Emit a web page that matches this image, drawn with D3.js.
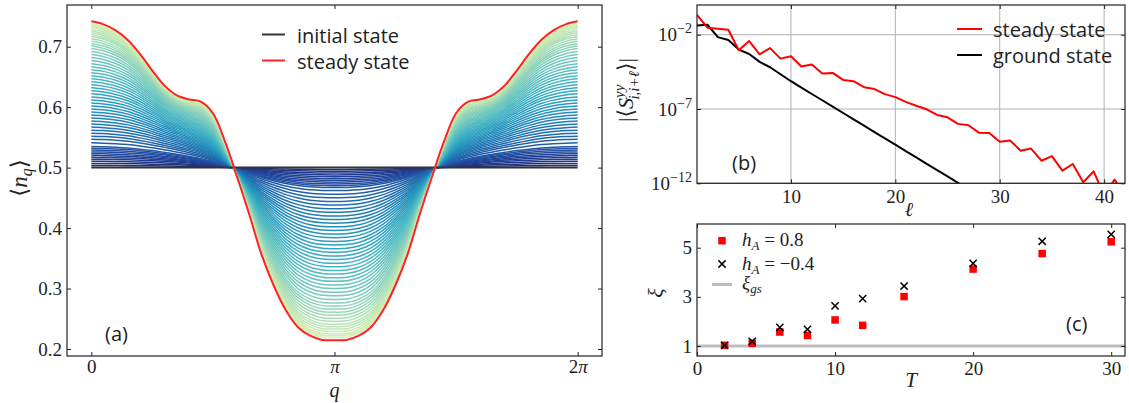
<!DOCTYPE html>
<html>
<head>
<meta charset="utf-8">
<script src="https://cdn.jsdelivr.net/npm/d3@7"></script>
<style>
  body { margin: 0; background: #fff; }
  svg { display: block; }
</style>
</head>
<body>
<svg id="fig" width="1129" height="403"></svg>
<script>
// ---------- panel (a) ----------
// steady state <n_q> read at q = j*pi/20, j = 0..20 (symmetric about q = pi)
const steadyHalf = [0.742, 0.737, 0.727, 0.711, 0.688, 0.661, 0.636, 0.620, 0.613, 0.609,
                    0.590, 0.543, 0.484, 0.422, 0.356, 0.305, 0.264, 0.236, 0.222, 0.215, 0.2145];
// shape of an early (dark blue) curve, as a fraction of its own amplitude, same q grid
const earlyShape = [1.00, 0.99, 0.97, 0.94, 0.89, 0.83, 0.75, 0.66, 0.55, 0.42, 0.27, 0.10,
                    -0.10, -0.30, -0.49, -0.65, -0.79, -0.89, -0.96, -0.99, -1.00];
// intermediate curves: value at q = 0 and at q = pi, in time order
const peakVals = [0.5035, 0.507, 0.5105, 0.514, 0.517, 0.520, 0.523, 0.526, 0.529, 0.532, 0.535,
                  0.541, 0.547, 0.552, 0.557, 0.562, 0.567, 0.572, 0.577, 0.582, 0.587,
                  0.592, 0.597, 0.602, 0.607, 0.612, 0.617, 0.622, 0.627, 0.632, 0.637,
                  0.642, 0.647, 0.652, 0.657, 0.662, 0.667, 0.672, 0.677, 0.682, 0.687,
                  0.692, 0.697, 0.701, 0.705, 0.709, 0.713, 0.717, 0.720, 0.723, 0.726,
                  0.729, 0.732, 0.734, 0.736, 0.738];
const dipVals = [0.497, 0.494, 0.491, 0.488, 0.485, 0.482, 0.479, 0.476, 0.473, 0.470, 0.467,
                 0.462, 0.456, 0.450, 0.444, 0.438, 0.432, 0.426, 0.420, 0.414, 0.408,
                 0.402, 0.396, 0.390, 0.384, 0.378, 0.372, 0.366, 0.360, 0.354, 0.348,
                 0.342, 0.336, 0.330, 0.324, 0.318, 0.312, 0.306, 0.300, 0.294, 0.288,
                 0.282, 0.276, 0.271, 0.266, 0.261, 0.256, 0.251, 0.246, 0.241, 0.237,
                 0.233, 0.229, 0.225, 0.222, 0.219];
const initialVal = 0.5;
const aYTicks = [0.2, 0.3, 0.4, 0.5, 0.6, 0.7];

// ---------- panel (b) ----------
const ell = [1, 2, 3, 4, 5, 6, 7, 8, 9, 10, 11, 12, 13, 14, 15, 16, 17, 18, 19, 20, 21,
             22, 23, 24, 25, 26, 27, 28, 29, 30, 31, 32, 33, 34, 35, 36, 37, 38, 39, 40, 41, 42];
// log10 |<S^yy>|
const steadyLog = [-0.66, -1.53, -1.60, -1.67, -3.05, -2.43, -3.32, -2.90, -3.61, -3.45,
                   -4.14, -4.01, -4.61, -4.57, -5.04, -5.13, -5.53, -5.66, -6.00, -6.20,
                   -6.52, -6.78, -7.02, -7.40, -7.56, -8.00, -8.09, -8.59, -8.61, -9.21,
                   -9.12, -9.81, -9.66, -10.48, -10.17, -11.15, -10.70, -11.93, -11.20, -12.8,
                   -11.75, -12.8];
const groundLog = [-1.38, -1.33, -2.16, -2.36, -3.00, -3.30, -3.83, -4.19, -4.66, -5.13,
                   -5.56, -5.99, -6.41, -6.84, -7.27, -7.70, -8.12, -8.55, -8.98, -9.40,
                   -9.83, -10.26, -10.69, -11.11, -11.54, -11.97, -12.40];
const bXTicks = [10, 20, 30, 40];
const bYTicks = [-12, -7, -2];

// ---------- panel (c) ----------
const periods = [2, 4, 6, 8, 10, 12, 15, 20, 25, 30];
const xiPos = [1.03, 1.11, 1.57, 1.43, 2.06, 1.84, 3.01, 4.13, 4.76, 5.24];   // h_A = 0.8
const xiNeg = [1.03, 1.19, 1.76, 1.68, 2.63, 2.93, 3.44, 4.36, 5.26, 5.54];   // h_A = -0.4
const xiGs = 1.0;
const cXTicks = [0, 10, 20, 30];
const cYTicks = [1, 3, 5];

const serif = '"Liberation Serif", "DejaVu Serif", serif';
const sans = '"Open Sans", "Noto Sans", sans-serif';
const ink = "#222";

const svg = d3.select("#fig");

function frame(b) {
    svg.append("rect")
        .attr("x", b.l).attr("y", b.t)
        .attr("width", b.r - b.l).attr("height", b.b - b.t)
        .attr("fill", "none").attr("stroke", ink).attr("stroke-width", 1.2);
}

// inward ticks on all four sides, labels bottom / left
function axes(b, x, y, xt, yt, xfmt, yfmt, xpad) {
    const style = g => {
        g.select(".domain").remove();
        g.attr("font-family", serif).attr("font-size", 19);
        g.selectAll(".tick line").attr("stroke", ink).attr("stroke-width", 1);
        g.selectAll(".tick text").attr("fill", ink);
    };
    const gb = svg.append("g").attr("transform", "translate(0," + b.b + ")")
        .call(d3.axisBottom(x).tickValues(xt).tickSize(-4).tickPadding(xpad || 6).tickFormat(xfmt)).call(style);
    svg.append("g").attr("transform", "translate(0," + b.t + ")")
        .call(d3.axisTop(x).tickValues(xt).tickSize(-4).tickFormat("")).call(style);
    const gl = svg.append("g").attr("transform", "translate(" + b.l + ",0)")
        .call(d3.axisLeft(y).tickValues(yt).tickSize(-4).tickPadding(5).tickFormat(yfmt)).call(style);
    svg.append("g").attr("transform", "translate(" + b.r + ",0)")
        .call(d3.axisRight(y).tickValues(yt).tickSize(-4).tickFormat("")).call(style);
    return { gb, gl };
}

// ================= panel (a) =================
const A = { l: 67, r: 602, t: 5, b: 356 };
const xA = d3.scaleLinear().domain([-0.1 * Math.PI, 2.1 * Math.PI]).range([A.l, A.r]);
const yA = d3.scaleLinear().domain([0.1884, 0.769]).range([A.b, A.t]);

// full q grid on [0, 2pi] from the symmetric half
const qs = d3.range(41).map(j => j * Math.PI / 20);
const half = j => (j <= 20 ? j : 40 - j);
const s0 = steadyHalf[0] - 0.5, sMin = 0.5 - steadyHalf[20];
const steadyShape = steadyHalf.map(v => (v >= 0.5 ? (v - 0.5) / s0 : (v - 0.5) / sMin));

// each curve: its own peak / dip amplitude, shape moving from the early one to the steady one
function curveFrom(peak, dip) {
    const up = peak - 0.5, down = 0.5 - dip;
    const w = up / s0;
    return qs.map((q, j) => {
        const k = half(j);
        const f = (1 - w) * earlyShape[k] + w * steadyShape[k];
        return [q, 0.5 + f * (f > 0 ? up : down)];
    });
}

const lineA = d3.line().x(d => xA(d[0])).y(d => yA(d[1])).curve(d3.curveCatmullRom.alpha(0.5));
const gA = svg.append("g");
const nCurves = peakVals.length;
peakVals.forEach((p, i) => {
    gA.append("path")
        .attr("d", lineA(curveFrom(p, dipVals[i])))
        .attr("fill", "none")
        .attr("stroke", d3.interpolateYlGnBu(0.9 - 0.7 * i / (nCurves - 1)))
        .attr("stroke-width", 1.5);
});
gA.append("path")
    .attr("d", lineA(qs.map(q => [q, initialVal])))
    .attr("fill", "none").attr("stroke", "#333").attr("stroke-width", 2);
gA.append("path")
    .attr("d", lineA(qs.map((q, j) => [q, steadyHalf[half(j)]])))
    .attr("fill", "none").attr("stroke", "#f22").attr("stroke-width", 2);

frame(A);
const axA = axes(A, xA, yA, [0, Math.PI, 2 * Math.PI], aYTicks, d => "", d3.format(".1f"), 4);
axA.gb.selectAll(".tick text").each(function (d, i) {
    const t = d3.select(this);
    if (i === 0) t.text("0");
    if (i === 1) t.append("tspan").attr("font-style", "italic").text("π");
    if (i === 2) { t.append("tspan").text("2"); t.append("tspan").attr("font-style", "italic").text("π"); }
});

// axis labels
svg.append("text").attr("transform", "translate(27,178) rotate(-90)")
    .attr("text-anchor", "middle").attr("font-family", serif).attr("font-size", 23).attr("fill", ink)
    .call(t => {
        t.append("tspan").text("⟨");
        t.append("tspan").attr("font-style", "italic").text("n");
        t.append("tspan").attr("font-style", "italic").attr("font-size", 16).attr("dy", 5).text("q");
        t.append("tspan").attr("dy", -5).text("⟩");
    });
svg.append("text").attr("x", xA(Math.PI)).attr("y", 397).attr("text-anchor", "middle")
    .attr("font-family", serif).attr("font-style", "italic").attr("font-size", 20).attr("fill", ink).text("q");

// legend (a)
const legA = [["initial state", "#333"], ["steady state", "#f22"]];
legA.forEach((e, i) => {
    const y = 34.5 + i * 26;
    svg.append("line").attr("x1", 262).attr("x2", 285).attr("y1", y).attr("y2", y)
        .attr("stroke", e[1]).attr("stroke-width", 2);
    svg.append("text").attr("x", 297).attr("y", y + 8.5).attr("font-family", sans)
        .attr("font-size", 20).attr("fill", ink).text(e[0]);
});
svg.append("text").attr("x", 105).attr("y", 341).attr("font-family", sans)
    .attr("font-size", 20).attr("fill", ink).text("(a)");

// ================= panel (b) =================
const B = { l: 697, r: 1125, t: 5, b: 183.3 };
const xB = d3.scaleLinear().domain([1, 42]).range([B.l, B.r]);
const yB = d3.scaleLinear().domain([-12, 0]).range([B.b, B.t]);   // log10 axis

svg.append("clipPath").attr("id", "clipB").append("rect")
    .attr("x", B.l).attr("y", B.t).attr("width", B.r - B.l).attr("height", B.b - B.t);

const gridB = svg.append("g").attr("stroke", "#b0b0b0").attr("stroke-width", 1);
bXTicks.forEach(v => gridB.append("line").attr("x1", xB(v)).attr("x2", xB(v)).attr("y1", B.t).attr("y2", B.b));
bYTicks.forEach(v => gridB.append("line").attr("x1", B.l).attr("x2", B.r).attr("y1", yB(v)).attr("y2", yB(v)));

const gB = svg.append("g").attr("clip-path", "url(#clipB)");
const lineB = d3.line().x(d => xB(d[0])).y(d => yB(d[1]));
gB.append("path").attr("d", lineB(groundLog.map((v, i) => [ell[i], v])))
    .attr("fill", "none").attr("stroke", "#000").attr("stroke-width", 2).attr("stroke-linejoin", "round");
gB.append("path").attr("d", lineB(steadyLog.map((v, i) => [ell[i], v])))
    .attr("fill", "none").attr("stroke", "#f00").attr("stroke-width", 2).attr("stroke-linejoin", "round");

frame(B);
const axB = axes(B, xB, yB, bXTicks, bYTicks, d3.format("d"), d => "");
axB.gl.selectAll(".tick text").each(function (d) {
    const t = d3.select(this);
    t.append("tspan").text("10");
    t.append("tspan").attr("dy", -8).attr("font-size", 14).text("−" + Math.abs(d));
});

svg.append("text").attr("transform", "translate(633,90) rotate(-90)")
    .attr("text-anchor", "middle").attr("font-family", serif).attr("font-size", 22).attr("fill", ink)
    .call(t => {
        t.append("tspan").text("|⟨");
        t.append("tspan").attr("font-style", "italic").text("S");
        t.append("tspan").attr("font-style", "italic").attr("font-size", 15).attr("dy", -9).text("yy");
        t.append("tspan").attr("font-style", "italic").attr("font-size", 15).attr("dx", -15).attr("dy", 15).text("i,i+ℓ");
        t.append("tspan").attr("dy", -6).text("⟩|");
    });
svg.append("text").attr("x", 909).attr("y", 216).attr("text-anchor", "middle")
    .attr("font-family", serif).attr("font-style", "italic").attr("font-size", 20).attr("fill", ink).text("ℓ");

const legB = [["steady state", "#f00"], ["ground state", "#000"]];
legB.forEach((e, i) => {
    const y = 29 + i * 26;
    svg.append("line").attr("x1", 957).attr("x2", 982).attr("y1", y).attr("y2", y)
        .attr("stroke", e[1]).attr("stroke-width", 2);
    svg.append("text").attr("x", 993).attr("y", y + 8).attr("font-family", sans)
        .attr("font-size", 20).attr("fill", ink).text(e[0]);
});
svg.append("text").attr("x", 732).attr("y", 170).attr("font-family", sans)
    .attr("font-size", 20).attr("fill", ink).text("(b)");

// ================= panel (c) =================
const C = { l: 697, r: 1125, t: 224, b: 356 };
const xC = d3.scaleLinear().domain([0, 31]).range([C.l, C.r]);
const yC = d3.scaleLinear().domain([0.593, 5.964]).range([C.b, C.t]);

svg.append("line").attr("x1", C.l).attr("x2", C.r).attr("y1", yC(xiGs)).attr("y2", yC(xiGs))
    .attr("stroke", "#bdbdbd").attr("stroke-width", 3);

const sq = 7.5;
svg.append("g").selectAll("rect").data(periods).join("rect")
    .attr("x", (d, i) => xC(d) - sq / 2).attr("y", (d, i) => yC(xiPos[i]) - sq / 2)
    .attr("width", sq).attr("height", sq).attr("fill", "#f00");
const xs = 3.6;
svg.append("g").selectAll("path").data(periods).join("path")
    .attr("d", (d, i) => {
        const cx = xC(d), cy = yC(xiNeg[i]);
        return `M${cx - xs},${cy - xs}L${cx + xs},${cy + xs}M${cx - xs},${cy + xs}L${cx + xs},${cy - xs}`;
    })
    .attr("stroke", "#000").attr("stroke-width", 1.5).attr("fill", "none");

frame(C);
axes(C, xC, yC, cXTicks, cYTicks, d3.format("d"), d3.format("d"));

svg.append("text").attr("transform", "translate(663,293) rotate(-90)")
    .attr("text-anchor", "middle").attr("font-family", serif).attr("font-style", "italic")
    .attr("font-size", 22).attr("fill", ink).text("ξ");
svg.append("text").attr("x", xC(15.5)).attr("y", 387).attr("text-anchor", "middle")
    .attr("font-family", serif).attr("font-style", "italic").attr("font-size", 21).attr("fill", ink).text("T");

// legend (c)
svg.append("rect").attr("x", 722 - sq / 2).attr("y", 240.7 - sq / 2).attr("width", sq).attr("height", sq).attr("fill", "#f00");
svg.append("path").attr("d", `M${722 - xs},${264 - xs}L${722 + xs},${264 + xs}M${722 - xs},${264 + xs}L${722 + xs},${264 - xs}`)
    .attr("stroke", "#000").attr("stroke-width", 1.5);
svg.append("line").attr("x1", 712).attr("x2", 732).attr("y1", 284.5).attr("y2", 284.5)
    .attr("stroke", "#bdbdbd").attr("stroke-width", 3);
const legC = [["A", " = 0.8", 246], ["A", " = −0.4", 269.5]];
legC.forEach(e => {
    svg.append("text").attr("x", 742).attr("y", e[2]).attr("font-family", serif)
        .attr("font-size", 19).attr("fill", ink).call(t => {
            t.append("tspan").attr("font-style", "italic").text("h");
            t.append("tspan").attr("font-style", "italic").attr("font-size", 13).attr("dy", 4).text(e[0]);
            t.append("tspan").attr("dy", -4).text(e[1]);
        });
});
svg.append("text").attr("x", 742).attr("y", 289).attr("font-family", serif)
    .attr("font-size", 19).attr("fill", ink).call(t => {
        t.append("tspan").attr("font-style", "italic").text("ξ");
        t.append("tspan").attr("font-style", "italic").attr("font-size", 13).attr("dy", 4).text("gs");
    });
svg.append("text").attr("x", 1066).attr("y", 331).attr("font-family", sans)
    .attr("font-size", 20).attr("fill", ink).text("(c)");
</script>
</body>
</html>
